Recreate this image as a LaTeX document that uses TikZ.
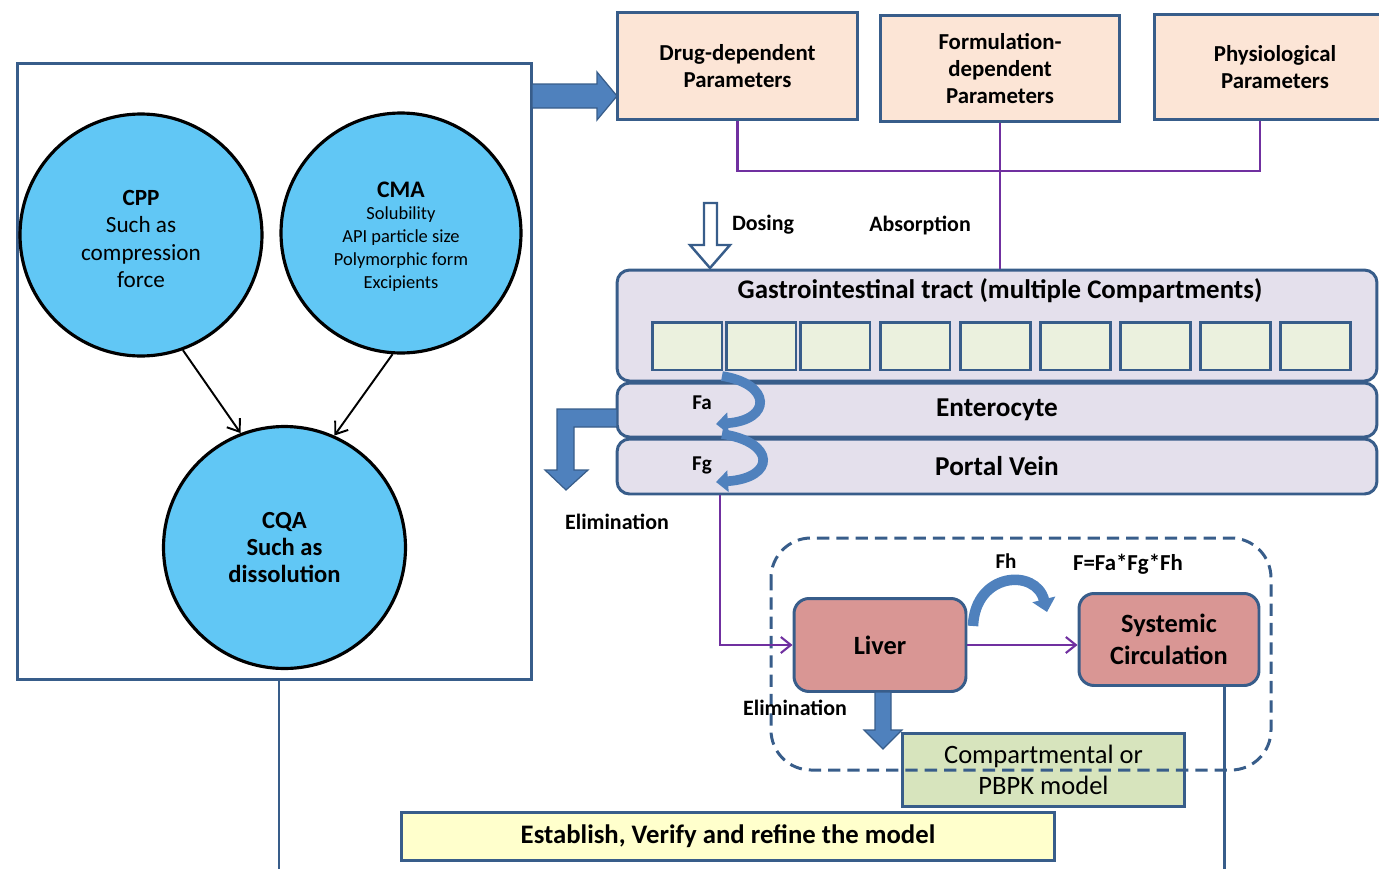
\documentclass[tikz,border=0pt]{standalone}
\usepackage{fontspec}
\setmainfont{Carlito}
\usepackage{tikz}
\usetikzlibrary{arrows.meta}

\definecolor{edgeblue}{RGB}{56,93,138}
\definecolor{blockblue}{RGB}{79,129,189}
\definecolor{pipe}{RGB}{112,48,160}
\definecolor{peach}{RGB}{252,229,214}
\definecolor{lavender}{RGB}{228,224,236}
\definecolor{cellgreen}{RGB}{235,241,222}
\definecolor{skyblue}{RGB}{97,199,245}
\definecolor{rose}{RGB}{217,150,148}
\definecolor{sage}{RGB}{215,228,189}
\definecolor{cream}{RGB}{255,255,204}

\tikzset{
  parambox/.style={draw=edgeblue,line width=1.7pt,fill=peach,align=center,
    font=\bfseries\fontsize{13}{15.5}\selectfont},
  factor/.style={draw=black,line width=1.8pt,fill=skyblue,circle,align=center,
    inner sep=0pt},
  layer/.style={draw=edgeblue,line width=1.7pt,fill=lavender,rounded corners=0.25cm,
    minimum width=15.2cm,font=\bfseries\fontsize{15.5}{18}\selectfont},
  cell/.style={draw=edgeblue,line width=1.7pt,fill=cellgreen,minimum width=1.4cm,
    minimum height=0.96cm},
  organ/.style={draw=edgeblue,line width=1.7pt,fill=rose,rounded corners=0.3cm,
    align=center,font=\bfseries\fontsize{15}{18}\selectfont},
  tag/.style={font=\bfseries\fontsize{12.5}{15}\selectfont},
  smalltag/.style={font=\bfseries\fontsize{12}{14}\selectfont},
  pline/.style={draw=pipe,line width=1.2pt},
  blockarrow/.style={fill=blockblue,draw=edgeblue,line width=0.7pt},
  turnarrow/.style={draw=blockblue,line width=5.5pt,
    -{Triangle[width=0.42cm,length=0.24cm]}},
}

\begin{document}
\begin{tikzpicture}[x=0.02cm,y=-0.02cm]
\useasboundingbox (0,0) rectangle (1379,869);

% left panel
\node[draw=edgeblue,line width=1.7pt,minimum width=10.3cm,minimum height=12.34cm] (frame) at (274.5,371.5) {};
\node[factor,minimum size=4.84cm,
  label={[align=center,yshift=-0.08cm,font=\fontsize{13.2}{15.5}\selectfont]center:{\bfseries CPP}\\Such as\\compression\\force}]
  (cpp) at (141,235) {};
\node[factor,minimum size=4.8cm,
  label={[align=center,yshift=-0.07cm,font=\fontsize{10.5}{13}\selectfont]center:{\bfseries\fontsize{13.5}{13}\selectfont CMA}\\Solubility\\API particle size\\Polymorphic form\\Excipients}]
  (cma) at (401,233) {};
\node[factor,minimum size=4.84cm,font=\bfseries\fontsize{14}{15.5}\selectfont] (cqa) at (284.5,547.5)
  {CQA\\Such as\\dissolution};
\draw[-{Straight Barb[length=0.22cm,width=0.32cm]},line width=1.1pt] (cpp.-70) -- (cqa.111);
\draw[-{Straight Barb[length=0.22cm,width=0.32cm]},line width=1.1pt] (cma.-94) -- (cqa.66);

% parameter boxes
\node[parambox,minimum width=4.82cm,minimum height=2.16cm] (drug) at (737.5,66) {Drug-dependent\\Parameters};
\node[parambox,minimum width=4.8cm,minimum height=2.14cm] (form) at (1000,68.5) {Formulation-\\dependent\\Parameters};
\node[parambox,minimum width=4.84cm,minimum height=2.12cm] (physio) at (1275,67) {Physiological\\Parameters};
\draw[blockarrow] (532,84) -- (597,84) -- (597,72) -- (617,96) -- (597,120) -- (597,108) -- (532,108) -- cycle;

\coordinate (join) at (0,171);
\coordinate (physfoot) at (1260,0);
\draw[pline] (drug.south) |- (join -| physfoot) -- (physfoot |- physio.south);

% gut layers
\node[layer,minimum height=2.22cm] (git) at (997,325.5) {};
\node[font=\bfseries\fontsize{15.3}{18}\selectfont] (gitlabel) at (1000,291) {Gastrointestinal tract (multiple Compartments)};
\foreach \cx [count=\i] in {687,761,835,915,995,1075,1155,1235,1315}
  \node[cell] (cell\i) at (\cx,346) {};
\node[layer,minimum height=1.08cm] (entero) at (997,410) {Enterocyte};
\node[layer,minimum height=1.1cm] (portal) at (997,466.5) {Portal Vein};
\draw[pline] (form.south) -- (form.south |- git.north);

\draw[fill=white,draw=edgeblue,line width=1.4pt] (704,203) -- (717,203) -- (717,245) -- (730,245) -- (710,268) -- (690,245) -- (704,245) -- cycle;
\node[tag] (dosing) at (763,225) {Dosing};
\node[tag] (absorp) at (920,226) {Absorption};

\node[smalltag] (fa) at (702,403) {Fa};
\node[smalltag] (fg) at (702,465) {Fg};
\draw[turnarrow] (722,376) .. controls (772,384) and (772,420) .. (716,424);
\draw[turnarrow] (722,434) .. controls (776,442) and (776,478) .. (716,482);

\draw[blockarrow] (617,409) -- (557,409) -- (557,470) -- (545,470) -- (566,490) -- (588,470) -- (574,470) -- (574,427) -- (617,427) -- cycle;
\node[tag] (elimgut) at (617,522) {Elimination};

% liver and circulation
\node[fill=sage,draw=edgeblue,line width=1.7pt,minimum width=5.64cm,minimum height=1.46cm,
  align=center,font=\fontsize{15.1}{18}\selectfont] (pbpk) at (1043.5,770) {Compartmental or\\PBPK model};
\draw[edgeblue,line width=1.7pt,dash pattern=on 7pt off 4pt,rounded corners=0.8cm] (771,538) rectangle (1271,770);
\node[organ,minimum width=3.44cm,minimum height=1.86cm] (liver) at (880,645) {Liver};
\node[organ,minimum width=3.6cm,minimum height=1.84cm] (syscirc) at (1169,639.5) {Systemic\\Circulation};
\coordinate (pvdrop) at (720,0);
\draw[pline,-{Straight Barb[length=0.2cm,width=0.32cm]}] (pvdrop |- portal.south) |- (liver.west);
\draw[pline,-{Straight Barb[length=0.2cm,width=0.32cm]}] (liver.east) -- (liver.east -| syscirc.west);
\draw[draw=blockblue,line width=6pt,-{Triangle[width=0.46cm,length=0.26cm]}] (973,626) .. controls (975,572) and (1036,568) .. (1047,612);
\node[smalltag] (fh) at (1006,561) {Fh};
\node[tag,font=\bfseries\fontsize{13}{15}\selectfont] (ftot) at (1128,564) {F=Fa*Fg*Fh};
\draw[blockarrow] (875,692) -- (891,692) -- (891,730) -- (902,730) -- (883,749) -- (864,730) -- (875,730) -- cycle;
\node[tag] (elimliver) at (795,708) {Elimination};

\node[draw=edgeblue,line width=1.7pt,fill=cream,minimum width=13.06cm,minimum height=0.96cm,
  font=\bfseries\fontsize{15.2}{17}\selectfont] (refine) at (728,836.5) {Establish, Verify and refine the model};

% loop back lines
\coordinate (leftfoot) at (279,869);
\coordinate (rightfoot) at (1224,869);
\draw[edgeblue,line width=1.7pt] (leftfoot |- frame.south) -- (leftfoot);
\draw[edgeblue,line width=1.7pt] (rightfoot |- syscirc.south) -- (rightfoot);
\end{tikzpicture}
\end{document}
